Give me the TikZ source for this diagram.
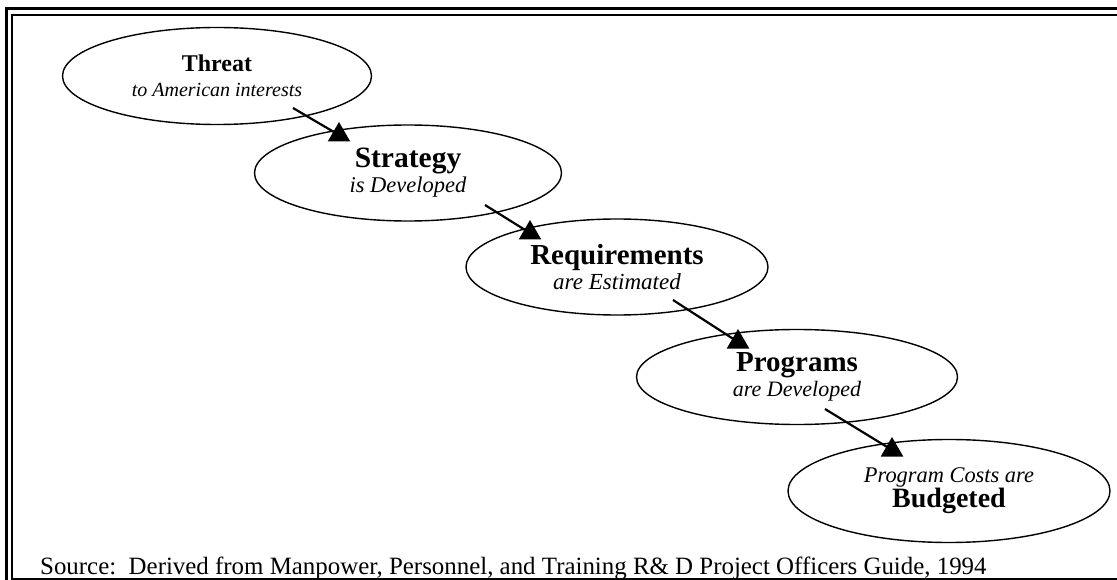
\documentclass[tikz,border=0pt]{standalone}
\usepackage{fontspec}
\setmainfont{Liberation Serif}
\usetikzlibrary{shapes.geometric}

\begin{document}
\begin{tikzpicture}[x=1pt, y=-1pt,
  stage/.style = {draw, ellipse, line width=1.4pt, inner sep=0pt, align=center, font=\fontsize{22}{25}\selectfont},
  headmark/.style = {regular polygon, regular polygon sides=3, fill, inner sep=0pt, minimum size=26pt},
  link/.style = {line width=2.2pt}]
\useasboundingbox (0,0) rectangle (1117,580);
\clip (0,0) rectangle (1117,580);
% frame
\draw[line width=2.8pt] (6.5,8.5) rectangle (1130,600);
\draw[line width=2.2pt] (12,15) rectangle (1124,579);
% stages
\node[stage, minimum width=309pt, minimum height=97pt] (threat) at (217,76)
  {{\fontsize{24}{25}\selectfont\bfseries Threat}\\{\fontsize{20}{25}\selectfont\itshape to American interests}};
\node[stage, minimum width=307pt, minimum height=96pt] (strategy) at (408,173)
  {{\fontsize{29.5}{25}\selectfont\bfseries Strategy}\\{\fontsize{22.5}{25}\selectfont\itshape is Developed}};
\node[stage, minimum width=302pt, minimum height=96pt] (require) at (617,267)
  {{\fontsize{29}{25}\selectfont\bfseries Requirements}\\{\fontsize{23}{25}\selectfont\itshape are Estimated}};
\node[stage, minimum width=321pt, minimum height=95pt] (programs) at (797,377)
  {{\fontsize{29}{24}\selectfont\bfseries Programs}\\{\fontsize{22}{24}\selectfont\itshape are Developed}};
\node[stage, minimum width=322pt, minimum height=103pt] (budget) at (949,491)
  {{\fontsize{22.4}{24}\selectfont\itshape Program Costs are}\\{\fontsize{28}{24}\selectfont\bfseries Budgeted}};
% arrow heads
\node[headmark] (t1) at (339,135) {};
\node[headmark] (t2) at (530,233) {};
\node[headmark] (t3) at (738,342) {};
\node[headmark] (t4) at (892,450) {};
% line starts
\coordinate[shift={(76,32)}] (s1) at (threat.center);
\coordinate[shift={(77,32)}] (s2) at (strategy.center);
\coordinate[shift={(56,33)}] (s3) at (require.center);
\coordinate[shift={(28,32)}] (s4) at (programs.center);
\draw[link] (s1) -- (t1.center);
\draw[link] (s2) -- (t2.center);
\draw[link] (s3) -- (t3.center);
\draw[link] (s4) -- (t4.center);
% source
\node[anchor=base west, inner sep=0pt, font=\fontsize{24.9}{25}\selectfont] (source) at (40,574)
  {Source:\ \ Derived from Manpower, Personnel, and Training R\& D Project Officers Guide, 1994};
\end{tikzpicture}
\end{document}
